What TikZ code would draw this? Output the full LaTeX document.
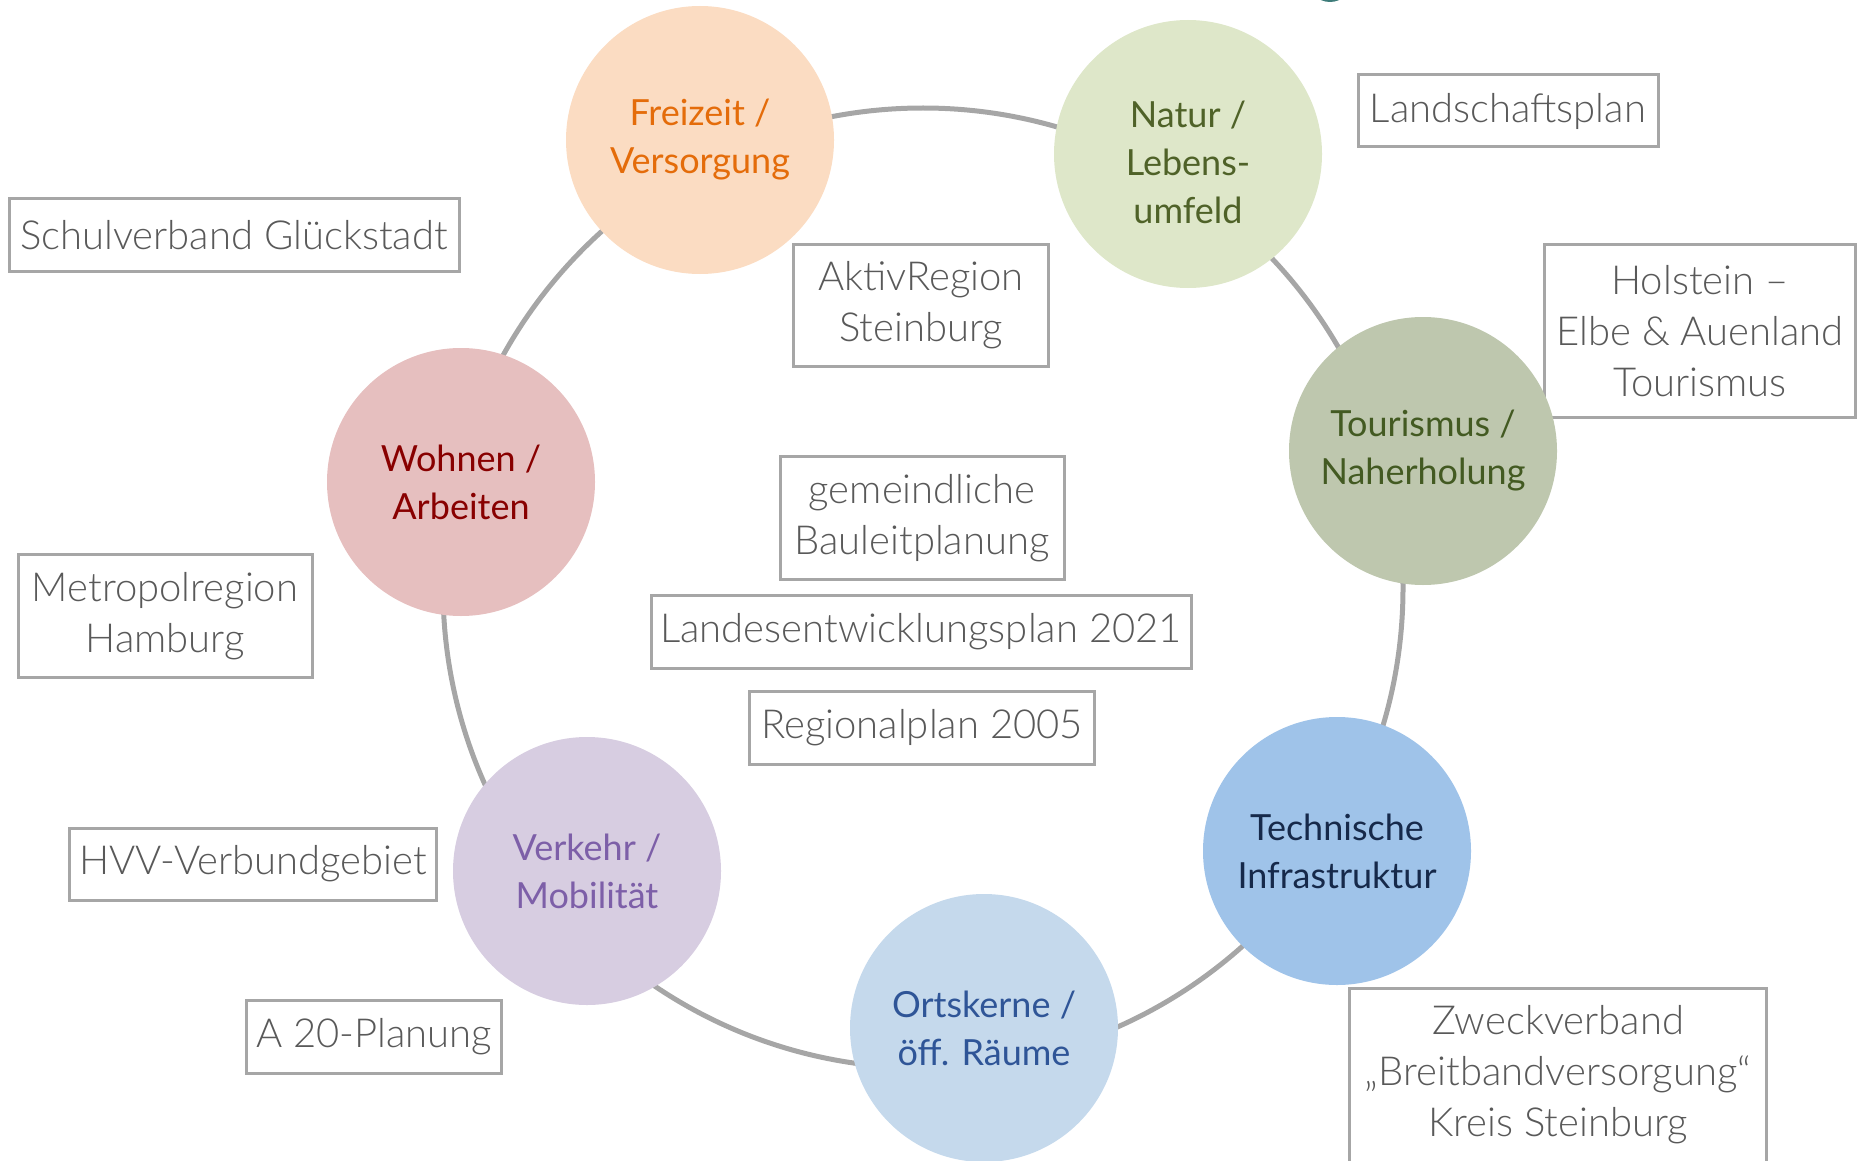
\documentclass[tikz,border=0pt]{standalone}
\usepackage{fontspec}
\setmainfont{Lato}
\newfontfamily\planfont{Lato Light}
\definecolor{ringgray}{HTML}{A6A6A6}
\definecolor{plantext}{HTML}{595959}
\definecolor{freizeitfill}{HTML}{FBDCC2}
\definecolor{freizeittext}{HTML}{E46C0A}
\definecolor{naturfill}{HTML}{DEE7C9}
\definecolor{naturtext}{HTML}{4F6228}
\definecolor{tourfill}{HTML}{BEC7AE}
\definecolor{tourtext}{HTML}{435A22}
\definecolor{technikfill}{HTML}{9FC3E9}
\definecolor{techniktext}{HTML}{16294A}
\definecolor{ortfill}{HTML}{C5D9EC}
\definecolor{orttext}{HTML}{2F5597}
\definecolor{verkehrfill}{HTML}{D7CDE1}
\definecolor{verkehrtext}{HTML}{7D5FA8}
\definecolor{wohnfill}{HTML}{E6BFBF}
\definecolor{wohntext}{HTML}{880000}
\definecolor{tealbit}{HTML}{3E7C7A}
\tikzset{
ring/.style={draw=ringgray,line width=5pt}, % the big circle
topic font/.style={align=center,font=\fontsize{36}{48}\selectfont},
topic/.style={circle,inner sep=0pt,minimum size=268pt,topic font},
plan/.style 2 args={draw=ringgray,line width=3pt,fill=white,text=plantext,
  align=center,inner sep=0pt,minimum width=#1,minimum height=#2,
  font=\planfont\fontsize{40}{51}\selectfont},
}
\begin{document}
\begin{tikzpicture}[x=1pt,y=-1pt]
\useasboundingbox (0,0) rectangle (1860,1161);
\draw[ring] (923,588) circle[radius=480pt];
\fill[tealbit] (1330,-20) circle[radius=22pt];
% plans and partners
\node[plan={300pt}{72pt}]  (landschaft) at (1508,111) {Landschaftsplan};
\node[plan={450pt}{73pt}]  (schule)     at (234,235)  {Schulverband Glückstadt};
\node[plan={255pt}{122pt}] (aktiv)      at (921,305)  {AktivRegion\\Steinburg};
\node[plan={311pt}{173pt}] (holstein)   at (1700,331) {Holstein –\\Elbe \& Auenland\\Tourismus};
\node[plan={284pt}{123pt}] (bauleit)    at (922,518)  {gemeindliche\\Bauleitplanung};
\node[plan={540pt}{73pt}]  (lep)        at (921,632)  {Landesentwicklungsplan 2021};
\node[plan={345pt}{73pt}]  (regional)   at (922,728)  {Regionalplan 2005};
\node[plan={294pt}{123pt}] (metropol)   at (165,616)  {Metropolregion\\Hamburg};
\node[plan={367pt}{72pt}]  (hvv)        at (253,864)  {HVV-Verbundgebiet};
\node[plan={255pt}{73pt}]  (a20)        at (374,1037) {A 20-Planung};
\node[plan={417pt}{174pt}] (breitband)  at (1558,1075) {Zweckverband\\„Breitbandversorgung“\\Kreis Steinburg};
% topics on the ring
\node[topic,fill=freizeitfill,text=freizeittext] (freizeit) at (700,140)  {Freizeit /\\Versorgung};
\node[topic,fill=naturfill,
  label={[topic font,text=naturtext,yshift=-8pt]center:Natur /\\Lebens-\\umfeld}] (natur) at (1188,154) {};
\node[topic,fill=tourfill,text=tourtext]         (tourismus) at (1423,451) {Tourismus /\\Naherholung};
\node[topic,fill=technikfill,text=techniktext]   (technik)  at (1337,851) {Technische\\Infrastruktur};
\node[topic,fill=ortfill,text=orttext]           (ort)      at (984,1028) {Ortskerne /\\öff. Räume};
\node[topic,fill=verkehrfill,text=verkehrtext]   (verkehr)  at (587,871)  {Verkehr /\\Mobilität};
\node[topic,fill=wohnfill,text=wohntext]         (wohnen)   at (461,482)  {Wohnen /\\Arbeiten};
\end{tikzpicture}
\end{document}
